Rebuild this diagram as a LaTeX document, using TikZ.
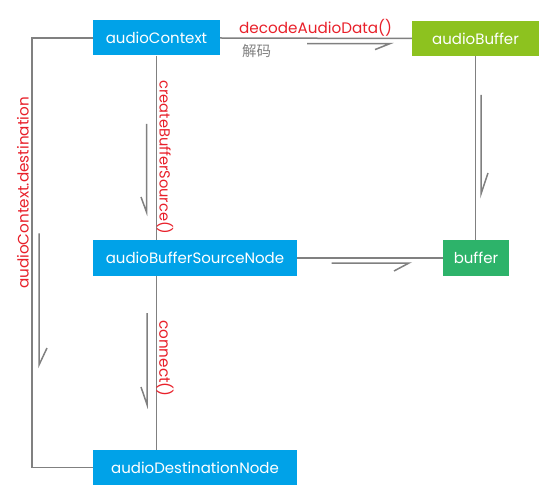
\documentclass[tikz,border=0pt]{standalone}
\usepackage{fontspec}
\setmainfont{Poppins}
\newfontfamily\cjk{Noto Sans CJK SC}
\definecolor{bblue}{RGB}{0,162,232}
\definecolor{lgreen}{RGB}{141,194,31}
\definecolor{dgreen}{RGB}{45,179,106}
\definecolor{lgray}{RGB}{128,128,128}
\definecolor{lred}{RGB}{232,32,42}
\begin{document}
\begin{tikzpicture}[x=1pt,y=-1pt,
  box/.style={rectangle, inner sep=0pt, text=white, font=\fontsize{15}{17}\selectfont, minimum height=35pt},
  conn/.style={draw=lgray, line width=1.5pt},
  harp/.style={draw=lgray, line width=1.5pt},
  lbl/.style={text=lred, font=\fontsize{15.2}{17}\selectfont, inner sep=0pt}]
\useasboundingbox (0,0) rectangle (551,494);
\node[box, fill=bblue, minimum width=127pt] (ctx) at (156.5,38) {audioContext};
\node[box, fill=lgreen, minimum width=127pt] (abuf) at (475.5,38.5) {audioBuffer};
\node[box, fill=bblue, minimum width=204pt] (src) at (195,258) {audioBufferSourceNode};
\node[box, fill=dgreen, minimum width=66pt] (buf) at (476,258) {buffer};
\node[box, fill=bblue, minimum width=204pt] (dest) at (195,467.5) {audioDestinationNode};
% connectors
\draw[conn] (ctx.east) -- (abuf.west);
\draw[conn] (ctx.west) -- ++(-61,0) |- (dest.west);
\draw[conn] (ctx.south) -- (ctx.south |- src.north);
\draw[conn] (src.south -| ctx.south) -- (dest.north -| ctx.south);
\draw[conn] (abuf.south) -- (abuf.south |- buf.north);
\draw[conn] (src.east) -- (buf.west);
% half arrows
\draw[harp] (307,43.6) -- (390,43.6) -- (375,49.6);
\draw[harp] (146.5,124) -- (146.5,212) -- (141,197);
\draw[harp] (481,95) -- (481,194) -- (488,173);
\draw[harp] (331.5,263) -- (409,263) -- (394,271);
\draw[harp] (147,313) -- (147,404.5) -- (141,387);
\draw[harp] (39,233.5) -- (39,365) -- (47,348);
% labels
\node[lbl, anchor=south west] (l1) at (239,37) {decodeAudioData()};
\node[text=lgray, font=\cjk\fontsize{14.5}{16}\selectfont, inner sep=0pt, anchor=west] (l2) at (242,51) {解码};
\node[lbl, rotate=-90, font=\fontsize{14.6}{17}\selectfont] (l3) at (165,157.5) {createBufferSource()};
\node[lbl, rotate=-90] (l4) at (165,358.5) {connect()};
\node[lbl, rotate=90] (l5) at (23,193) {audioContext.destination};
\end{tikzpicture}
\end{document}
